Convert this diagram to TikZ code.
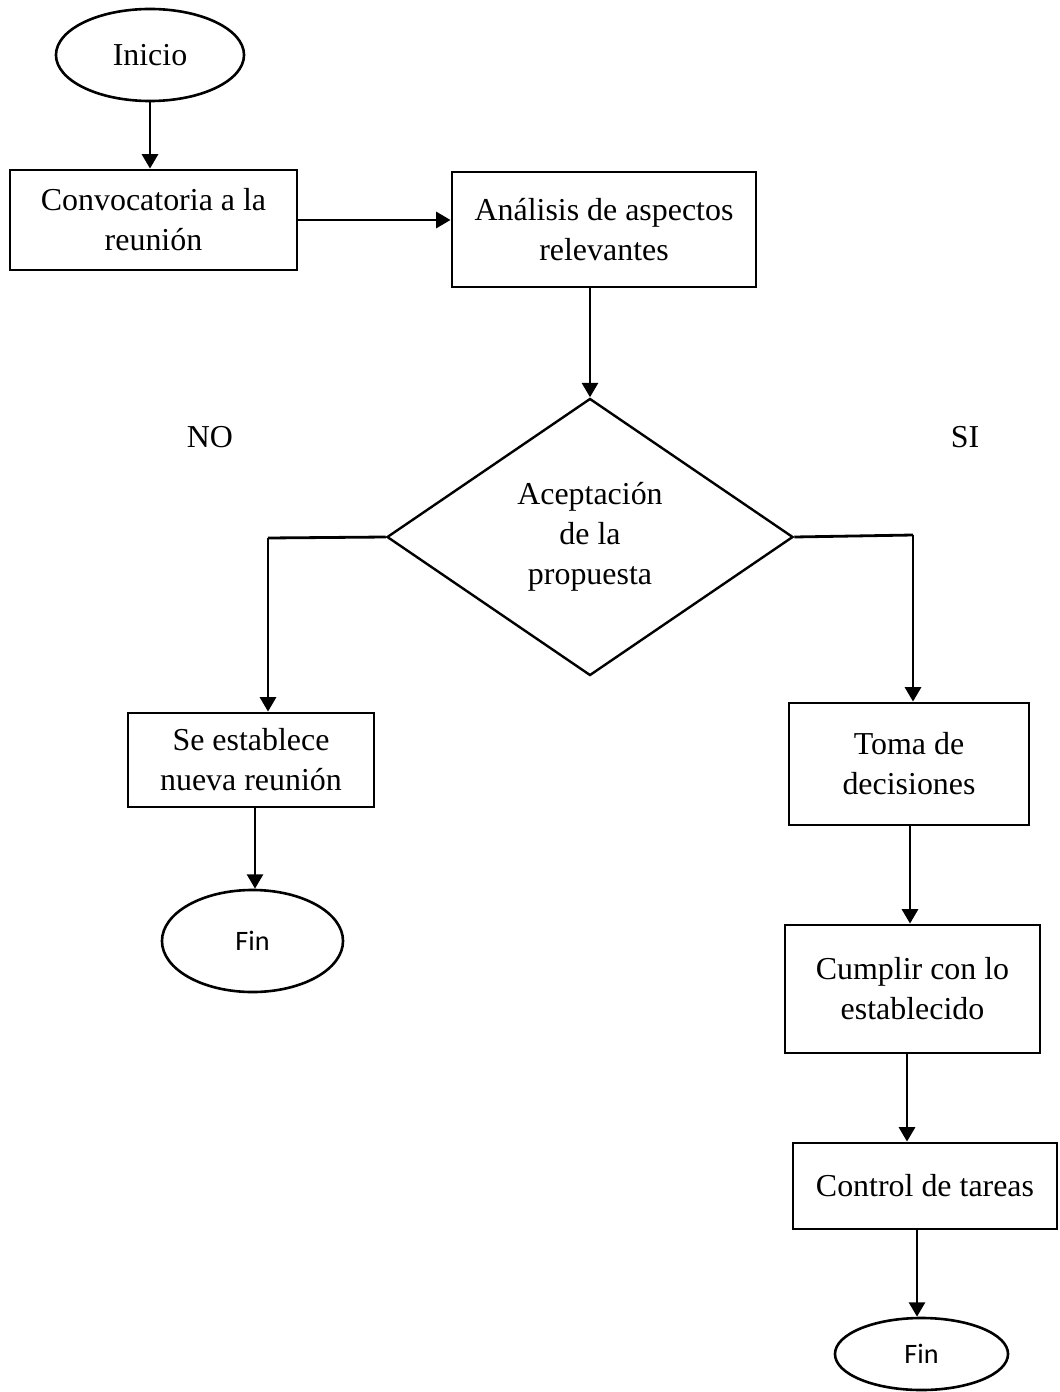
\documentclass[tikz,border=0pt]{standalone}
\usepackage{fontspec}
\setmainfont{Liberation Serif}
\newfontfamily\finfont{Carlito}
\usetikzlibrary{arrows.meta,shapes.geometric}

\begin{document}
\begin{tikzpicture}[x=0.025cm, y=-0.025cm,
	every node/.style={font=\fontsize{22.7}{28.5}\selectfont},
	caja/.style={draw, line width=0.07cm, align=center, inner sep=0pt},
	ovalo/.style={draw, ellipse, line width=0.065cm, inner sep=0pt},
	finovalo/.style={ovalo, font=\finfont\fontsize{20}{24}\selectfont},
	rombo/.style={draw, diamond, line width=0.06cm, align=center, inner sep=0pt},
	flecha/.style={line width=0.07cm, -{Triangle[length=0.36cm,width=0.4cm]}},
	linea/.style={line width=0.07cm}]
			%%%%% START %%%%%
			
			\useasboundingbox (0, 0) rectangle (1059, 1392);
			
			\node[ovalo, minimum width=4.7cm, minimum height=2.3cm] (inicio) at (150, 55) {Inicio};
			\node[caja, minimum width=7.175cm, minimum height=2.5cm] (convocatoria) at (153.5, 220) {Convocatoria a la\\reunión};
			\node[caja, minimum width=7.6cm, minimum height=2.875cm] (analisis) at (604, 229.5) {Análisis de aspectos\\relevantes};
			
			\node[rombo, minimum width=10.15cm, minimum height=6.925cm] (aceptacion) at (590, 537) {Aceptación\\de la\\propuesta};
			\node (no) at (210, 437) {NO};
			\node (si) at (965, 437) {SI};
			
			\coordinate (nocodo) at (268, 538);
			\coordinate (sicodo) at (913, 535);
			
			\node[caja, minimum width=6.15cm, minimum height=2.35cm] (nueva) at (251, 760) {Se establece\\nueva reunión};
			\node[finovalo, minimum width=4.525cm, minimum height=2.55cm] (finno) at (252.5, 941) {Fin};
			
			\node[caja, minimum width=6.0cm, minimum height=3.05cm] (toma) at (909, 764) {Toma de\\decisiones};
			\node[caja, minimum width=6.375cm, minimum height=3.2cm] (cumplir) at (912.5, 989) {Cumplir con lo\\establecido};
			\node[caja, minimum width=6.6cm, minimum height=2.15cm] (control) at (925, 1186) {Control de tareas};
			\node[finovalo, minimum width=4.325cm, minimum height=1.8cm] (finsi) at (921.5, 1354) {Fin};
			
			\draw[flecha] (inicio.south) -- (inicio.south |- convocatoria.north);
			\draw[flecha] (convocatoria.east) -- (convocatoria.east -| analisis.west);
			\draw[flecha] (analisis.south -| aceptacion.north) -- (aceptacion.north);
			
			\draw[linea] (aceptacion.west) -- (nocodo);
			\draw[flecha] (nocodo) -- (nocodo |- nueva.north);
			\draw[linea] (aceptacion.east) -- (sicodo);
			\draw[flecha] (sicodo) -- (sicodo |- toma.north);
			
			\draw[flecha] (nueva.south -| 255, 0) -- (finno.north -| 255, 0);
			\draw[flecha] (toma.south -| 910, 0) -- (cumplir.north -| 910, 0);
			\draw[flecha] (cumplir.south -| 907, 0) -- (control.north -| 907, 0);
			\draw[flecha] (control.south -| 917, 0) -- (finsi.north -| 917, 0);
			
			%%%%% END %%%%%
		\end{tikzpicture}
\end{document}
